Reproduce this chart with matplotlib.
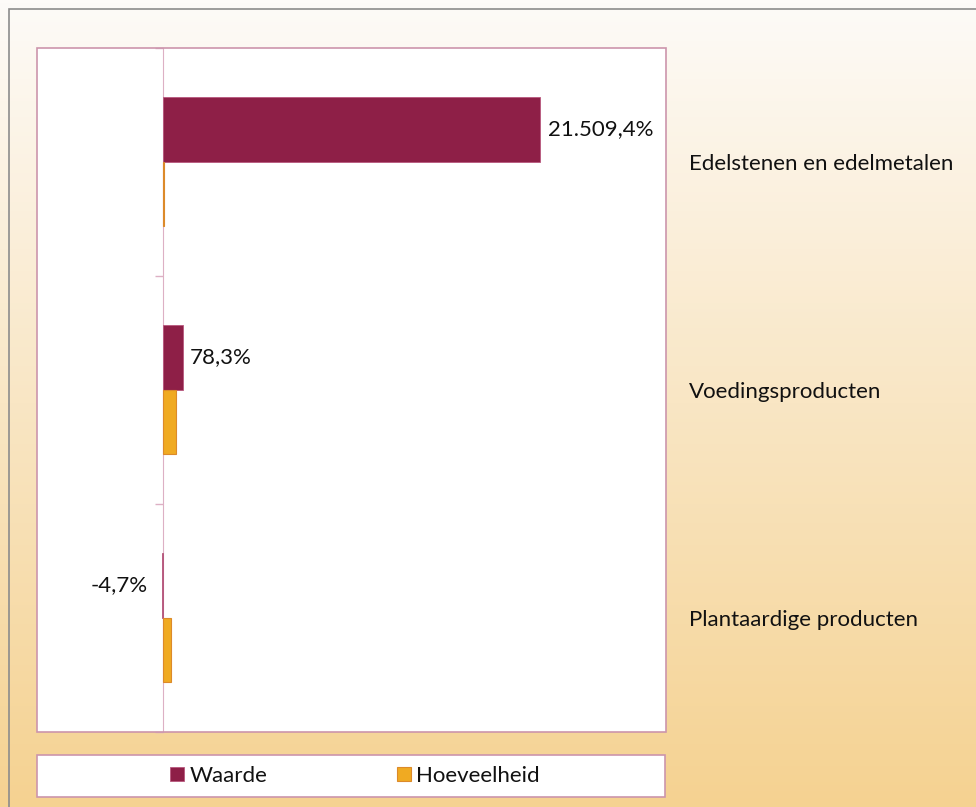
import matplotlib.pyplot as plt
import numpy as np
from matplotlib.colors import LinearSegmentedColormap
from matplotlib.patches import Rectangle
from matplotlib.ticker import FixedLocator

# data (top to bottom)
categories = ["Edelstenen en edelmetalen", "Voedingsproducten", "Plantaardige producten"]
series = ["Waarde", "Hoeveelheid"]
waarde = [1500, 78.3, -4.7]  # bar length as drawn in the source chart
waarde_labels = ["21.509,4%", "78,3%", "-4,7%"]
hoeveelheid = [6, 52, 32]

W, H = 976, 807
FS = 16
plt.rcParams["font.family"] = ["Lato", "DejaVu Sans"]

fig = plt.figure(figsize=(W / 100, H / 100), dpi=100)

# gradient background + outer frame
bg = fig.add_axes([0, 0, 1, 1], zorder=-10)
grad = np.linspace(0, 1, 256).reshape(-1, 1)
cmap = LinearSegmentedColormap.from_list("bg", ["#FDFBF8", "#F9E6C4", "#F5D291"])
bg.imshow(grad, cmap=cmap, aspect="auto", extent=[0, 1, 0, 1], origin="upper")
bg.add_patch(Rectangle((9 / W, -0.1), 2, 1 - 9 / H + 0.1, fill=False,
                       edgecolor="#8C8C8C", linewidth=1.2))
bg.set_xlim(0, 1)
bg.set_ylim(0, 1)
bg.axis("off")

# main plot area
ax = fig.add_axes([37 / W, 75.5 / H, 629 / W, 684 / H])
ax.set_facecolor("white")
y = np.arange(len(categories))
h = 0.283
b1 = ax.barh(y - h / 2, waarde, height=h, color="#8E1F47",
             edgecolor="#B8587E", linewidth=0.6, zorder=3)
b2 = ax.barh(y + h / 2, hoeveelheid, height=h, color="#F0AA22",
             edgecolor="#DC8A2A", linewidth=0.8, zorder=3)
ax.set_xlim(-500, 2000)
ax.set_ylim(2.5, -0.5)

# data labels on the Waarde bars
for yi, v, lab in zip(y, waarde, waarde_labels):
    off = 5.5 if v >= 0 else -10
    ax.annotate(lab, (v, yi - h / 2), xytext=(off, 0), textcoords="offset points",
                ha="left" if v >= 0 else "right", va="center", fontsize=FS,
                color="#111111")

# axes styling
for s in ["top", "right", "bottom"]:
    ax.spines[s].set_visible(False)
ax.spines["left"].set_position(("data", 0))
ax.spines["left"].set_color("#DDB0C4")
ax.add_patch(Rectangle((0, 0), 1, 1, transform=ax.transAxes, fill=False,
                       edgecolor="#CC95AC", linewidth=1.2, clip_on=False, zorder=5))
ax.set_xticks([])
ax.set_yticks(y)
ax.set_yticklabels(categories)
ax.yaxis.set_minor_locator(FixedLocator([-0.5, 0.5, 1.5, 2.5]))
ax.tick_params(axis="y", which="major", left=False, right=False,
               labelleft=False, labelright=True, pad=13, labelsize=FS,
               labelcolor="#111111")
ax.tick_params(axis="y", which="minor", left=True, right=False, length=5.8,
               width=1, color="#DDB0C4", direction="out")

# legend box
lx0, lx1, ly0, ly1 = 37, 665, 755, 797
fig.patches.append(Rectangle((lx0 / W, 1 - ly1 / H), (lx1 - lx0) / W, (ly1 - ly0) / H,
                             transform=fig.transFigure, facecolor="white",
                             edgecolor="#CC95AC", linewidth=1.2, zorder=1))
fig.legend([b1, b2], series, loc="center", bbox_to_anchor=(355 / W, 1 - 776 / H),
           ncol=2, frameon=False, fontsize=FS, handlelength=0.63, handleheight=0.63,
           handletextpad=0.25, columnspacing=5.8, borderpad=0, labelcolor="#111111")

fig.savefig("out.png", dpi=100)
